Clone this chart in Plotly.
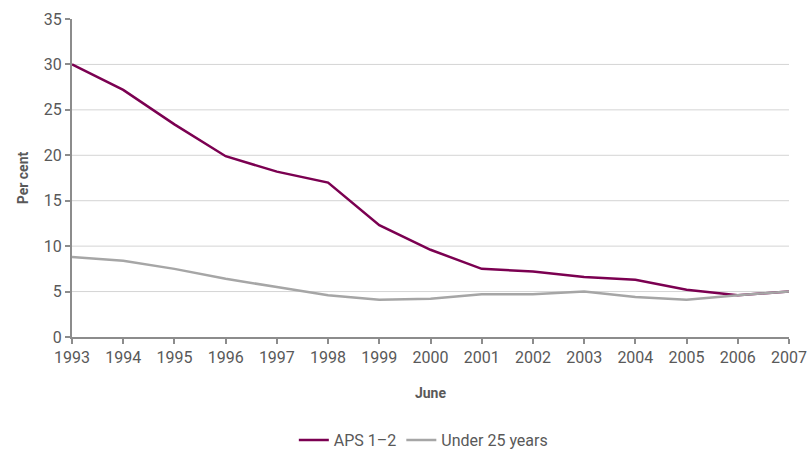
import plotly.graph_objects as go

years = list(range(1993, 2008))
aps_1_2 = [30.0, 27.2, 23.4, 19.9, 18.2, 17.0, 12.3, 9.6, 7.5, 7.2, 6.6, 6.3, 5.2, 4.6, 5.0]
under_25 = [8.8, 8.4, 7.5, 6.4, 5.5, 4.6, 4.1, 4.2, 4.7, 4.7, 5.0, 4.4, 4.1, 4.6, 5.0]
y_ticks = [0, 5, 10, 15, 20, 25, 30, 35]
grid_vals = [5, 10, 15, 20, 25, 30]

FONT = "Roboto, sans-serif"
TXT = "#595959"

fig = go.Figure()
fig.add_trace(go.Scatter(x=years, y=aps_1_2, mode="lines", name="APS 1\u20132",
                         line=dict(color="#7B0051", width=2.5)))
fig.add_trace(go.Scatter(x=years, y=under_25, mode="lines", name="Under 25 years",
                         line=dict(color="#A6A6A6", width=2.5)))

for g in grid_vals:
    fig.add_shape(type="line", xref="paper", yref="y", x0=0, x1=1, y0=g, y1=g,
                  line=dict(color="#D4D4D4", width=1), layer="below")

fig.update_layout(
    width=807, height=453,
    margin=dict(l=72, r=18, t=19, b=116, autoexpand=False),
    paper_bgcolor="white", plot_bgcolor="white",
    font=dict(family=FONT, size=16, color=TXT),
    showlegend=True,
    legend=dict(orientation="h", x=0.49, xanchor="center", y=-0.324, yanchor="middle",
                font=dict(size=16, color=TXT)),
    xaxis=dict(range=[1993, 2007], tickvals=years, showgrid=False, zeroline=False,
               automargin=False,
               showline=True, linecolor="#8C8C8C", linewidth=2,
               ticks="outside", ticklen=5, tickcolor="#8C8C8C", tickwidth=2,
               tickfont=dict(size=16, color=TXT),
               title=dict(text="<b>June</b>", font=dict(size=14, color=TXT), standoff=22)),
    yaxis=dict(range=[0, 35], tickvals=y_ticks, showgrid=False, zeroline=False,
               automargin=False,
               showline=True, linecolor="#8C8C8C", linewidth=2,
               ticks="outside", ticklen=5, tickcolor="#8C8C8C", tickwidth=2,
               tickfont=dict(size=16, color=TXT),
               title=dict(text="<b>Per cent</b>", font=dict(size=14, color=TXT), standoff=12)),
)

fig.write_html(
    "out.html",
    config={"displayModeBar": False},
    post_script="document.body.style.margin='0';document.body.style.overflow='hidden';",
)
